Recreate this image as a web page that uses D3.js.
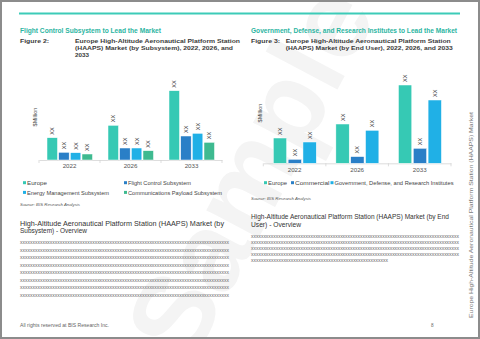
<!DOCTYPE html>
<html><head><meta charset="utf-8">
<script src="https://cdn.jsdelivr.net/npm/d3@7"></script>
<style>
html,body{margin:0;padding:0;background:#fff;}
svg{display:block;font-family:"Liberation Sans",Arial,sans-serif;}
</style></head>
<body>
<svg id="c" width="480" height="339"></svg>
<script>
// ---------- data ----------
const years = ["2022", "2026", "2033"];
const subsystemSeries = ["Europe", "Flight Control Subsystem", "Energy Management Subsystem", "Communications Payload Subsystem"];
const subEurope = [22.3, 34.7, 69.3];
const subFlightControl = [7.7, 12.0, 24.0];
const subEnergyMgmt = [7.3, 12.0, 26.7];
const subCommsPayload = [6.0, 9.3, 17.7];

const endUserSeries = ["Europe", "Commercial", "Government, Defense, and Research Institutes"];
const euEurope = [25.3, 39.3, 78.3];
const euCommercial = [4.0, 6.7, 15.0];
const euGovernment = [21.3, 33.0, 63.3];

const valueLabel = "XX";

// ---------- drawing ----------
const svg = d3.select("#c");
const teal = "#36c9b4", blueDark = "#2a7fc7", blueLight = "#20b0e6", green = "#3eba90";
const headColor = "#2cb5a2", textDark = "#3a3a3a";

// watermark
svg.append("text").attr("transform", "translate(258,176) rotate(-62)")
  .attr("text-anchor", "middle").attr("dominant-baseline", "middle")
  .attr("font-size", 112).attr("font-weight", "bold").attr("fill", "#f4f4f4").text("Sample");

// border + top rule
svg.append("rect").attr("x", 1).attr("y", 1).attr("width", 478).attr("height", 337)
  .attr("fill", "none").attr("stroke", "#8c8c8c").attr("stroke-width", 2);
svg.append("line").attr("x1", 19).attr("x2", 460).attr("y1", 13.5).attr("y2", 13.5)
  .attr("stroke", "#3ccbb8").attr("stroke-width", 2.2);

function txt(x, y, s, o) {
  o = o || {};
  const t = svg.append("text").attr("x", x).attr("y", y).text(s)
    .attr("font-size", o.size || 6).attr("fill", o.fill || textDark);
  if (o.weight) t.attr("font-weight", o.weight);
  if (o.style) t.attr("font-style", o.style);
  if (o.len) t.attr("textLength", o.len).attr("lengthAdjust", "spacingAndGlyphs");
  if (o.anchor) t.attr("text-anchor", o.anchor);
  return t;
}

// headings
txt(20, 33, "Flight Control Subsystem to Lead the Market", {size: 7.6, fill: headColor, weight: "bold", len: 141});
txt(251, 33, "Government, Defense, and Research Institutes to Lead the Market", {size: 7.6, fill: headColor, weight: "bold", len: 206});

// figure captions
txt(20, 43, "Figure 2:", {size: 5.6, weight: "bold", len: 29});
txt(75, 43, "Europe High-Altitude Aeronautical Platform Station", {size: 5.6, weight: "bold", len: 165});
txt(75, 50.3, "(HAAPS) Market (by Subsystem), 2022, 2026, and", {size: 5.6, weight: "bold", len: 158});
txt(75, 57.3, "2033", {size: 5.6, weight: "bold", len: 14});
txt(251, 43, "Figure 3:", {size: 5.6, weight: "bold", len: 29});
txt(285.7, 43, "Europe High-Altitude Aeronautical Platform Station", {size: 5.6, weight: "bold", len: 165});
txt(285.7, 50.3, "(HAAPS) Market (by End User), 2022, 2026, and 2033", {size: 5.6, weight: "bold", len: 167});

function drawChart(cfg) {
  const g = svg.append("g");
  const x0 = d3.scaleBand().domain(years).range(cfg.xRange).padding(0);
  const x1 = d3.scaleBand().domain(cfg.series).range(cfg.inner).paddingInner(0.1);
  const y = d3.scaleLinear().domain([0, 100]).range([cfg.base, cfg.base - 100]);
  const color = d3.scaleOrdinal().domain(cfg.series).range(cfg.colors);

  // axis
  const ax = g.append("g").attr("transform", `translate(0,${cfg.base})`)
    .call(d3.axisBottom(x0).tickSize(0).tickPadding(4));
  ax.select(".domain").attr("stroke", "#d4d4d4").attr("stroke-width", 0.8);
  ax.selectAll("text").attr("font-size", 6.2).attr("fill", "#555").attr("font-family", "Liberation Sans,Arial,sans-serif");
  const bounds = years.map(d => x0(d)).concat([cfg.xRange[1]]);
  g.selectAll("line.sep").data(bounds).join("line").attr("class", "sep")
    .attr("x1", d => d).attr("x2", d => d).attr("y1", cfg.base).attr("y2", cfg.base + 3)
    .attr("stroke", "#d4d4d4").attr("stroke-width", 0.8);

  const rows = [];
  years.forEach((yr, i) => cfg.series.forEach((s, j) => rows.push({yr, s, v: cfg.values[j][i]})));
  g.selectAll("rect.bar").data(rows).join("rect").attr("class", "bar")
    .attr("x", d => x0(d.yr) + x1(d.s)).attr("width", x1.bandwidth())
    .attr("y", d => y(d.v)).attr("height", d => y(0) - y(d.v))
    .attr("fill", d => color(d.s)).attr("stroke", "#fff").attr("stroke-width", 0.5);
  g.selectAll("text.lbl").data(rows).join("text").attr("class", "lbl")
    .attr("transform", d => `translate(${x0(d.yr) + x1(d.s) + x1.bandwidth() / 2 + 2},${y(d.v) - 3}) rotate(-90)`)
    .attr("font-size", 5.6).attr("fill", "#444").text(valueLabel);

  // y title
  g.append("text").attr("transform", `translate(${cfg.yTitleX},${cfg.yTitleY}) rotate(-90)`)
    .attr("text-anchor", "middle").attr("font-size", 5.6).attr("fill", "#444").text("$Million");

  // legend
  cfg.legend.forEach((L, k) => {
    g.append("rect").attr("x", L.x).attr("y", L.y - 3.6).attr("width", 3).attr("height", 3)
      .attr("fill", color(cfg.series[k]));
    txt(L.x + 4, L.y, cfg.series[k], {size: 6, fill: "#444", len: L.len});
  });
  txt(cfg.srcX, cfg.srcY, "Source: BIS Research Analysis", {size: 4.2, fill: "#555", style: "italic", len: 60});
}

drawChart({
  series: subsystemSeries, values: [subEurope, subFlightControl, subEnergyMgmt, subCommsPayload],
  colors: [teal, blueDark, blueLight, green],
  xRange: [39, 222], inner: [8, 53.5], base: 160,
  yTitleX: 37, yTitleY: 117,
  legend: [{x: 23, y: 184.8, len: 20}, {x: 124, y: 184.8, len: 63}, {x: 23, y: 194.5, len: 82}, {x: 124, y: 194.5, len: 94}],
  srcX: 20, srcY: 205.5
});
drawChart({
  series: endUserSeries, values: [euEurope, euCommercial, euGovernment],
  colors: [teal, blueDark, blueLight],
  xRange: [263.3, 451], inner: [10, 53], base: 163.3,
  yTitleX: 261.5, yTitleY: 113,
  legend: [{x: 264, y: 184.8, len: 19}, {x: 291, y: 184.8, len: 34.5}, {x: 330.5, y: 184.8, len: 119}],
  srcX: 251, srcY: 199.5
});

// overview sections
txt(20, 225.8, "High-Altitude Aeronautical Platform Station (HAAPS) Market (by", {size: 7, fill: "#333", len: 204});
txt(20, 233.2, "Subsystem) - Overview", {size: 7, fill: "#333", len: 67});
const leftRows = 8, rightRows = 5;
const xs = "x".repeat(84);
d3.range(leftRows).forEach(i => txt(20, 244 + i * 7.55, xs, {size: 5, fill: "#666", len: 209}));
txt(251, 219.2, "High-Altitude Aeronautical Platform Station (HAAPS) Market (by End", {size: 7, fill: "#333", len: 198});
txt(251, 226.8, "User) - Overview", {size: 7, fill: "#333", len: 50});
d3.range(rightRows).forEach(i => txt(251, 237.5 + i * 6.1, i === rightRows - 1 ? "x".repeat(55) : xs,
  {size: 5, fill: "#666", len: i === rightRows - 1 ? 137 : 208}));

// footer
txt(20, 326.5, "All rights reserved at BIS Research Inc.", {size: 4.6, fill: "#666", len: 89});
txt(431, 326.5, "8", {size: 4.6, fill: "#666"});

// side running title
svg.append("text").attr("transform", "translate(472.5,318) rotate(-90)")
  .attr("font-size", 5.4).attr("fill", "#777")
  .attr("textLength", 206).attr("lengthAdjust", "spacingAndGlyphs")
  .text("Europe High-Altitude Aeronautical Platform Station (HAAPS) Market");
</script>
</body></html>
